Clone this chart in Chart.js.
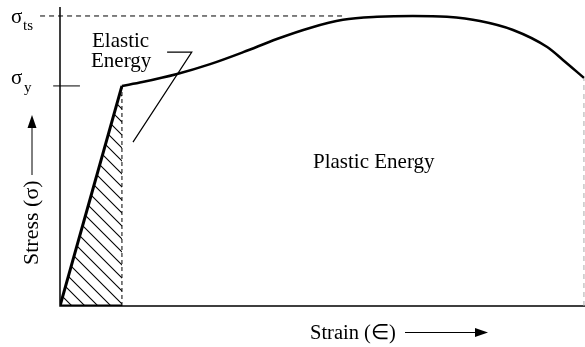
<!DOCTYPE html>
<html>
<head>
<meta charset="utf-8">
<script src="https://cdn.jsdelivr.net/npm/chart.js@4"></script>
<style>
html, body { margin: 0; padding: 0; background: #fff; }
#wrap { width: 585px; height: 347px; position: relative; }
</style>
</head>
<body>
<div id="wrap"><canvas id="stressStrainChart"></canvas></div>
<script>
// plastic part of the curve, from the yield point on (both axes in % of full scale)
const plasticStrain = [11.8, 15.7, 22.3, 28.6, 34.9, 41.3, 47.6, 53.9, 60.4, 67.2, 73.7, 80.0, 86.3, 92.8, 95.8, 99.8];
const plasticStress = [73.6, 74.9, 77.6, 80.9, 84.9, 89.3, 93.0, 95.7, 96.7, 97.0, 96.7, 95.3, 92.3, 86.6, 82.3, 76.3];
const yieldStrain = 11.8;
const yieldStress = 73.6;
const ultimateStress = 97.0;
const ultimateDashEnd = 53.9;
const yTickStrain = [-1.3, 3.8];
const tsDashStart = -3.8;
// leader line from the "Elastic Energy" label into the hatched area
const leaderStrain = [20.4, 25.1, 13.9];
const leaderStress = [84.9, 84.9, 54.8];
const elasticLabel = ['Elastic', 'Energy'];
const plasticLabel = 'Plastic Energy';
const xTitle = 'Strain (\u2208)';
const yTitle = 'Stress (\u03C3)';

const pts = (xs, ys) => xs.map((x, i) => ({ x: x, y: ys[i] }));

// diagonal hatching for the elastic triangle
function hatchPattern() {
    const c = document.createElement('canvas');
    c.width = 13; c.height = 13;
    const g = c.getContext('2d');
    g.strokeStyle = '#000';
    g.lineWidth = 1.1;
    g.beginPath();
    g.moveTo(-2, -2); g.lineTo(15, 15);
    g.moveTo(-2, 11); g.lineTo(2, 15);
    g.moveTo(11, -2); g.lineTo(15, 2);
    g.stroke();
    return g.createPattern(c, 'repeat');
}

const SERIF = '"Liberation Serif", "Times New Roman", serif';

const axesPlugin = {
    id: 'axes',
    beforeDatasetsDraw(chart) {
        const a = chart.chartArea, ctx = chart.ctx;
        ctx.save();
        ctx.strokeStyle = '#000';
        ctx.lineWidth = 1.5;
        ctx.beginPath();
        ctx.moveTo(a.left, a.top);
        ctx.lineTo(a.left, a.bottom);
        ctx.lineTo(a.right, a.bottom);
        ctx.stroke();
        ctx.restore();
    }
};

const textPlugin = {
    id: 'labels',
    afterDraw(chart) {
        const ctx = chart.ctx, ys = chart.scales.y;
        ctx.save();
        ctx.fillStyle = '#000';
        ctx.strokeStyle = '#000';
        ctx.textBaseline = 'alphabetic';
        ctx.textAlign = 'left';

        // sigma_ts and sigma_y
        const yTs = ys.getPixelForValue(ultimateStress);
        const yY = ys.getPixelForValue(yieldStress);
        ctx.font = '21px ' + SERIF;
        ctx.fillText('\u03C3', 11, yTs + 7);
        ctx.fillText('\u03C3', 11, yY - 2);
        ctx.font = '15px ' + SERIF;
        ctx.fillText('ts', 23, yTs + 14);
        ctx.fillText('y', 24, yY + 6);

        ctx.font = '21px ' + SERIF;
        ctx.fillText(elasticLabel[0], 92, 47);
        ctx.fillText(elasticLabel[1], 91, 67);
        ctx.fillText(plasticLabel, 313, 168);

        // x title + arrow
        ctx.font = '20.5px ' + SERIF;
        ctx.fillText(xTitle, 310, 339);
        ctx.lineWidth = 1;
        ctx.beginPath();
        ctx.moveTo(405, 332.5); ctx.lineTo(478, 332.5);
        ctx.stroke();
        ctx.beginPath();
        ctx.moveTo(488, 332.5); ctx.lineTo(475, 328); ctx.lineTo(475, 337); ctx.closePath();
        ctx.fill();

        // y title + arrow
        ctx.font = '22px ' + SERIF;
        ctx.save();
        ctx.translate(38, 265);
        ctx.rotate(-Math.PI / 2);
        ctx.fillText(yTitle, 0, 0);
        ctx.restore();
        ctx.beginPath();
        ctx.moveTo(32, 175); ctx.lineTo(32, 124);
        ctx.stroke();
        ctx.beginPath();
        ctx.moveTo(32, 115); ctx.lineTo(27.5, 128); ctx.lineTo(36.5, 128); ctx.closePath();
        ctx.fill();
        ctx.restore();
    }
};

const line = (data, extra) => Object.assign({
    data: data,
    showLine: true,
    borderColor: '#000',
    borderWidth: 1,
    pointRadius: 0,
    fill: false,
    tension: 0
}, extra);

new Chart(document.getElementById('stressStrainChart'), {
    type: 'scatter',
    data: {
        datasets: [
            line([{ x: 0, y: 0 }, { x: yieldStrain, y: yieldStress }], { fill: 'origin', backgroundColor: hatchPattern(), borderWidth: 0 }),
            line([{ x: yieldStrain, y: 0 }, { x: yieldStrain, y: yieldStress }], { borderDash: [4, 3] }),
            line([{ x: 0, y: 0 }, { x: yieldStrain, y: yieldStress }], { borderWidth: 3 }),
            line([{ x: 0, y: 0 }, { x: yieldStrain, y: 0 }], { borderWidth: 3 }),
            line(pts(plasticStrain, plasticStress), { borderWidth: 2.5, cubicInterpolationMode: 'monotone' }),
            line([{ x: plasticStrain[plasticStrain.length - 1], y: 0 }, { x: plasticStrain[plasticStrain.length - 1], y: plasticStress[plasticStress.length - 1] }], { borderColor: '#aaa', borderDash: [5, 4] }),
            line([{ x: tsDashStart, y: ultimateStress }, { x: ultimateDashEnd, y: ultimateStress }], { borderDash: [5, 4], clip: false }),
            line(pts(yTickStrain, [yieldStress, yieldStress]), { clip: false }),
            line(pts(leaderStrain, leaderStress), { borderWidth: 1.2 })
        ]
    },
    options: {
        responsive: true,
        maintainAspectRatio: false,
        animation: false,
        layout: { padding: { left: 60, top: 7, right: 0, bottom: 41 } },
        scales: {
            x: { type: 'linear', min: 0, max: 100, display: false },
            y: { type: 'linear', min: 0, max: 100, display: false }
        },
        plugins: {
            legend: { display: false },
            tooltip: { enabled: false }
        }
    },
    plugins: [axesPlugin, textPlugin]
});
</script>
</body>
</html>
